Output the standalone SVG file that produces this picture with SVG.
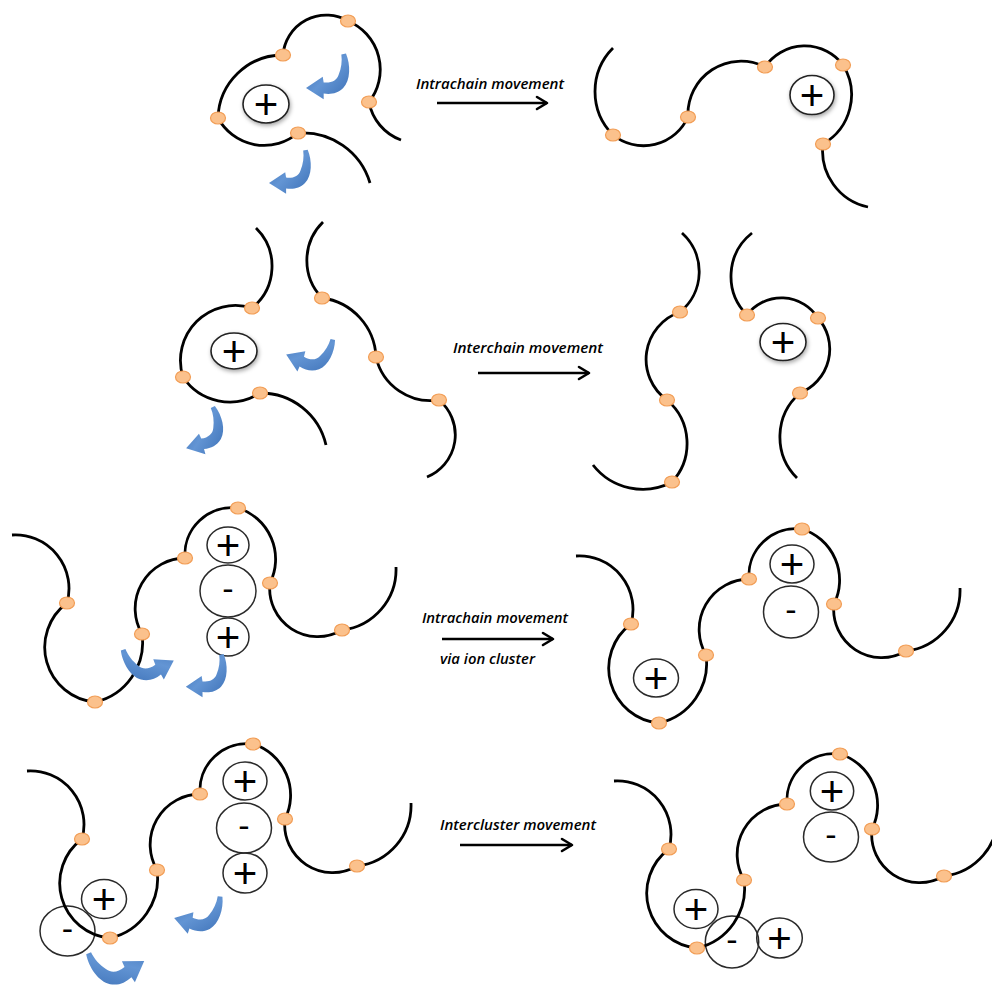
<svg xmlns="http://www.w3.org/2000/svg" width="992" height="988" viewBox="0 0 992 988">
<defs>
<style>
.chain{fill:none;stroke:#000;stroke-width:2.8}
.bead{fill:#fbc18c;stroke:#f29d55;stroke-width:1.2}
.ion{fill:#fff;stroke:#222;stroke-width:1.6;filter:url(#soft)}
.ion2{fill:none;stroke:#2a2a2a;stroke-width:1.5}
.plus{font-family:"Liberation Sans",Arial,sans-serif;font-size:42px;text-anchor:middle;fill:#000}
.minus{font-family:"Liberation Sans",Arial,sans-serif;font-size:34px;text-anchor:middle;fill:#000}
.twist{fill:url(#blue)}
.lbl{font-family:"Open Sans","Liberation Sans",sans-serif;font-style:italic;font-weight:600;font-size:15px;fill:#000}
.move{fill:none;stroke:#000;stroke-width:2.6;marker-end:url(#chev)}
</style>
<linearGradient id="blue" x1="0" y1="0" x2="1" y2="1">
<stop offset="0" stop-color="#3c70b6"/>
<stop offset="0.5" stop-color="#6395d4"/>
<stop offset="1" stop-color="#3c70b6"/>
</linearGradient>
<filter id="soft" x="-30%" y="-30%" width="170%" height="170%">
<feDropShadow dx="1" dy="2" stdDeviation="2" flood-color="#000" flood-opacity="0.35"/>
</filter>
<marker id="chev" markerUnits="userSpaceOnUse" markerWidth="16" markerHeight="16" refX="12" refY="8" orient="auto">
<path d="M2,2 L12,8 L2,14" fill="none" stroke="#000" stroke-width="2.6" stroke-linecap="round" stroke-linejoin="round"/>
</marker>
<!-- curved motion arrow: tail at top right, head pointing left -->
<path id="twist" d="M43,0 C48,12 48,29 40,37 C34,43 27,44 19,43 L19,49 L0,37 L18,25 L19,31 C27,32 33,29 35,23 C38,16 39,8 38,1 Z"/>
<!-- wavy chain with seven beads -->
<g id="wave">
<path class="chain" d="M12,535 A53.6,53.6 0 0 1 67,603 A55,55 0 0 0 95,702 A61,61 0 0 0 142,634 A50.6,50.6 0 0 1 185,558 A47,47 0 0 1 238,508 A53.6,53.6 0 0 1 270,583 A48,48 0 0 0 342,630 A61,61 0 0 0 396,567"/>
<ellipse class="bead" cx="67" cy="603" rx="7.5" ry="6"/>
<ellipse class="bead" cx="95" cy="702" rx="7.5" ry="6"/>
<ellipse class="bead" cx="142" cy="634" rx="7.5" ry="6"/>
<ellipse class="bead" cx="185" cy="558" rx="7.5" ry="6"/>
<ellipse class="bead" cx="238" cy="508" rx="7.5" ry="6"/>
<ellipse class="bead" cx="270" cy="583" rx="7.5" ry="6"/>
<ellipse class="bead" cx="342" cy="630" rx="7.5" ry="6"/>
</g>
</defs>

<rect width="992" height="988" fill="#fff"/>

<!-- Row 1: intrachain, before -->
<g id="row1-before">
<path class="chain" d="M370,183 A70,70 0 0 0 298,133 A52.5,52.5 0 0 1 218,118 A65,65 0 0 1 283,55 A43.4,43.4 0 0 1 348,21 A52.6,52.6 0 0 1 369,102 A50,50 0 0 0 401,140"/>
<ellipse class="bead" cx="348" cy="21" rx="7.5" ry="6"/>
<ellipse class="bead" cx="283" cy="55" rx="7.5" ry="6"/>
<ellipse class="bead" cx="369" cy="102" rx="7.5" ry="6"/>
<ellipse class="bead" cx="218" cy="118" rx="7.5" ry="6"/>
<ellipse class="bead" cx="298" cy="133" rx="7.5" ry="6"/>
<g id="r1-cation"><ellipse class="ion" cx="266" cy="104" rx="23" ry="19"/><text class="plus" x="266" y="118.7">+</text></g>
<use href="#twist" class="twist" transform="translate(306,53.6) scale(0.93)"/>
<use href="#twist" class="twist" transform="translate(269,149.7) scale(0.9)"/>
</g>

<!-- Row 1: intrachain, after -->
<g id="row1-after">
<path class="chain" d="M613,48 A61.6,61.6 0 0 0 613,135 A48.8,48.8 0 0 0 688,117 A53,53 0 0 1 765,67 A48,48 0 0 1 843,65 A56.6,56.6 0 0 1 823,144 A57.4,57.4 0 0 0 868,207"/>
<ellipse class="bead" cx="613" cy="135" rx="7.5" ry="6"/>
<ellipse class="bead" cx="688" cy="117" rx="7.5" ry="6"/>
<ellipse class="bead" cx="765" cy="67" rx="7.5" ry="6"/>
<ellipse class="bead" cx="843" cy="65" rx="7.5" ry="6"/>
<ellipse class="bead" cx="823" cy="144" rx="7.5" ry="6"/>
<g id="r1-cation-moved"><ellipse class="ion" cx="812" cy="95" rx="22" ry="19.5"/><text class="plus" x="812" y="109.7">+</text></g>
</g>

<!-- Row 2: interchain, before -->
<g id="row2-before">
<path class="chain" d="M256,228 A53.6,53.6 0 0 1 252,308 A55,55 0 0 0 183,377 A56,56 0 0 0 260,393 A67,67 0 0 1 326,445"/>
<path class="chain" d="M323,222 A54,54 0 0 0 322,298 A62,62 0 0 1 376,357 A56,56 0 0 0 439,400 A45.5,45.5 0 0 1 427,477"/>
<ellipse class="bead" cx="252" cy="308" rx="7.5" ry="6"/>
<ellipse class="bead" cx="183" cy="377" rx="7.5" ry="6"/>
<ellipse class="bead" cx="260" cy="393" rx="7.5" ry="6"/>
<ellipse class="bead" cx="322" cy="298" rx="7.5" ry="6"/>
<ellipse class="bead" cx="376" cy="357" rx="7.5" ry="6"/>
<ellipse class="bead" cx="439" cy="400" rx="7.5" ry="6"/>
<g id="r2-cation"><ellipse class="ion" cx="234" cy="351" rx="23" ry="18"/><text class="plus" x="234" y="365.7">+</text></g>
<use href="#twist" class="twist" transform="translate(299.7,324.2) rotate(24) scale(0.9)"/>
<use href="#twist" class="twist" transform="translate(177.5,416.1) rotate(-15) scale(0.9)"/>
</g>

<!-- Row 2: interchain, after -->
<g id="row2-after">
<path class="chain" d="M682,233 A52,52 0 0 1 680,312 A50,50 0 0 0 667,400 A57,57 0 0 1 672,482 A63,63 0 0 1 593,465"/>
<path class="chain" d="M752,233 A55,55 0 0 0 747,315 A43.3,43.3 0 0 1 818,318 A47.2,47.2 0 0 1 800,393 A58,58 0 0 0 797,478"/>
<ellipse class="bead" cx="680" cy="312" rx="7.5" ry="6"/>
<ellipse class="bead" cx="667" cy="400" rx="7.5" ry="6"/>
<ellipse class="bead" cx="672" cy="482" rx="7.5" ry="6"/>
<ellipse class="bead" cx="747" cy="315" rx="7.5" ry="6"/>
<ellipse class="bead" cx="818" cy="318" rx="7.5" ry="6"/>
<ellipse class="bead" cx="800" cy="393" rx="7.5" ry="6"/>
<g id="r2-cation-moved"><ellipse class="ion" cx="783" cy="342" rx="23" ry="18.5"/><text class="plus" x="783" y="356.7">+</text></g>
</g>

<!-- Row 3: intrachain via ion cluster, before -->
<g id="row3-before">
<g id="r3-cluster">
<ellipse class="ion2" cx="228" cy="545" rx="21" ry="18"/><text class="plus" x="228" y="559.7">+</text>
<ellipse class="ion2" cx="228" cy="591" rx="28" ry="26"/><text class="minus" x="228" y="600">-</text>
<ellipse class="ion2" cx="228" cy="637" rx="21" ry="19"/><text class="plus" x="228" y="651.7">+</text>
</g>
<use href="#wave"/>
<use href="#twist" class="twist" transform="translate(156.2,630.1) rotate(-30) scale(-0.95,0.95)"/>
<use href="#twist" class="twist" transform="translate(185.8,654.1) scale(0.88)"/>
</g>

<!-- Row 3: intrachain via ion cluster, after -->
<g id="row3-after">
<g id="r3-pair">
<ellipse class="ion2" cx="792" cy="564" rx="22" ry="19"/><text class="plus" x="792" y="578.7">+</text>
<ellipse class="ion2" cx="791" cy="612" rx="27.5" ry="26"/><text class="minus" x="791" y="621">-</text>
</g>
<g id="r3-cation-moved"><ellipse class="ion2" cx="656" cy="678" rx="22.5" ry="19"/><text class="plus" x="656" y="692.7">+</text></g>
<use href="#wave" transform="translate(564,21)"/>
</g>

<!-- Row 4: intercluster, before -->
<g id="row4-before">
<g id="r4-cluster">
<ellipse class="ion2" cx="245" cy="781" rx="22" ry="19"/><text class="plus" x="245" y="795.7">+</text>
<ellipse class="ion2" cx="244" cy="828" rx="27.5" ry="25"/><text class="minus" x="244" y="837">-</text>
<ellipse class="ion2" cx="245" cy="873" rx="22" ry="20"/><text class="plus" x="245" y="887.7">+</text>
</g>
<g id="r4-pair">
<ellipse class="ion2" cx="104" cy="899" rx="22.5" ry="19.5"/><text class="plus" x="104" y="913.7">+</text>
<ellipse class="ion2" cx="67.5" cy="931" rx="27.5" ry="25"/><text class="minus" x="67.5" y="940">-</text>
</g>
<use href="#wave" transform="translate(15,236)"/>
<use href="#twist" class="twist" transform="translate(184.2,885.1) rotate(17) scale(0.93)"/>
<use href="#twist" class="twist" transform="translate(122.9,929.5) rotate(-34) scale(-1.03,1.03)"/>
</g>

<!-- Row 4: intercluster, after -->
<g id="row4-after">
<g id="r4-pair-after">
<ellipse class="ion2" cx="832" cy="791" rx="21.7" ry="19"/><text class="plus" x="832" y="805.7">+</text>
<ellipse class="ion2" cx="831" cy="837" rx="27.5" ry="25"/><text class="minus" x="831" y="846">-</text>
</g>
<g id="r4-new-cluster">
<ellipse class="ion2" cx="696" cy="909" rx="22" ry="19.5"/><text class="plus" x="696" y="923.7">+</text>
<ellipse class="ion2" cx="732" cy="942" rx="26.7" ry="26"/><text class="minus" x="732" y="951">-</text>
<ellipse class="ion2" cx="779.5" cy="938" rx="22.8" ry="20"/><text class="plus" x="779.5" y="952.7">+</text>
</g>
<use href="#wave" transform="translate(602,246)"/>
</g>

<!-- transition arrows and their captions -->
<g id="connectors">
<path id="move-1" class="move" d="M437,103 H547"/>
<path id="move-2" class="move" d="M478,373 H589"/>
<path id="move-3" class="move" d="M442,639 H553"/>
<path id="move-4" class="move" d="M460,845 H572"/>
</g>
<g id="captions">
<text class="lbl" x="416" y="89" textLength="148" lengthAdjust="spacingAndGlyphs">Intrachain movement</text>
<text class="lbl" x="453" y="353" textLength="150" lengthAdjust="spacingAndGlyphs">Interchain movement</text>
<text class="lbl" x="422" y="623" textLength="146" lengthAdjust="spacingAndGlyphs">Intrachain movement</text>
<text class="lbl" x="440" y="664" textLength="95" lengthAdjust="spacingAndGlyphs">via ion cluster</text>
<text class="lbl" x="440" y="830" textLength="156" lengthAdjust="spacingAndGlyphs">Intercluster movement</text>
</g>
</svg>
